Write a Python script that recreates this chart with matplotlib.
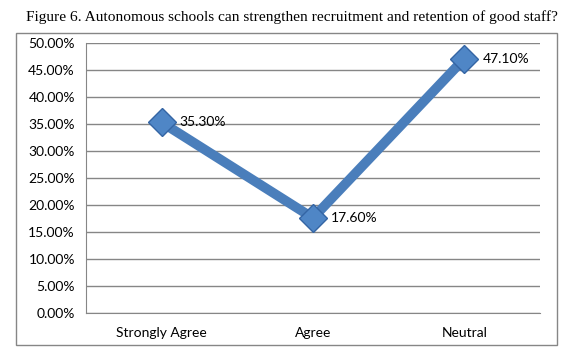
import matplotlib

matplotlib.use("Agg")
import matplotlib.pyplot as plt
from matplotlib.patches import Rectangle
from matplotlib.ticker import FuncFormatter, MultipleLocator

TITLE = "Figure 6. Autonomous schools can strengthen recruitment and retention of good staff?"
categories = ["Strongly Agree", "Agree", "Neutral"]
values = [35.3, 17.6, 47.1]

LINE_BLUE = "#4a7ebb"
GRID_GRAY = "#868686"

fig = plt.figure(figsize=(5.82, 3.59), dpi=100)
fig.text(0.502, 0.953, TITLE, ha="center", va="center",
         family="Liberation Serif", fontsize=11.1)

# chart frame
fig.patches.append(Rectangle((0.0275, 0.039), 0.929, 0.869, transform=fig.transFigure,
                             fill=False, edgecolor=GRID_GRAY, lw=1.0))

ax = fig.add_axes([0.1478, 0.1281, 0.78, 0.7521])
x = list(range(len(categories)))
ax.plot(x, values, color=LINE_BLUE, lw=7, solid_capstyle="butt", zorder=3,
        marker="D", ms=14, mfc="#4f86c6", mec="#3465a4", mew=1.0)
for xi, v in zip(x, values):
    ax.annotate(f"{v:.2f}%", (xi, v), xytext=(13, 0), textcoords="offset points",
                va="center", ha="left", family="Lato", fontsize=10, zorder=4)

ax.set_xlim(-0.5, 2.5)
ax.set_ylim(0, 50)
ax.yaxis.set_major_locator(MultipleLocator(5))
ax.yaxis.set_major_formatter(FuncFormatter(lambda v, _: f"{v:.2f}%"))
ax.set_xticks(x)
ax.set_xticklabels(categories)
ax.grid(axis="y", color=GRID_GRAY, lw=1.0)
ax.set_axisbelow(True)
for s in ("top", "right"):
    ax.spines[s].set_visible(False)
for s in ("left", "bottom"):
    ax.spines[s].set_color(GRID_GRAY)
ax.tick_params(length=0, labelsize=10, pad=8)
for lab in ax.get_xticklabels() + ax.get_yticklabels():
    lab.set_family("Lato")
ax.tick_params(axis="x", pad=10)

fig.savefig("out.png", dpi=100)
